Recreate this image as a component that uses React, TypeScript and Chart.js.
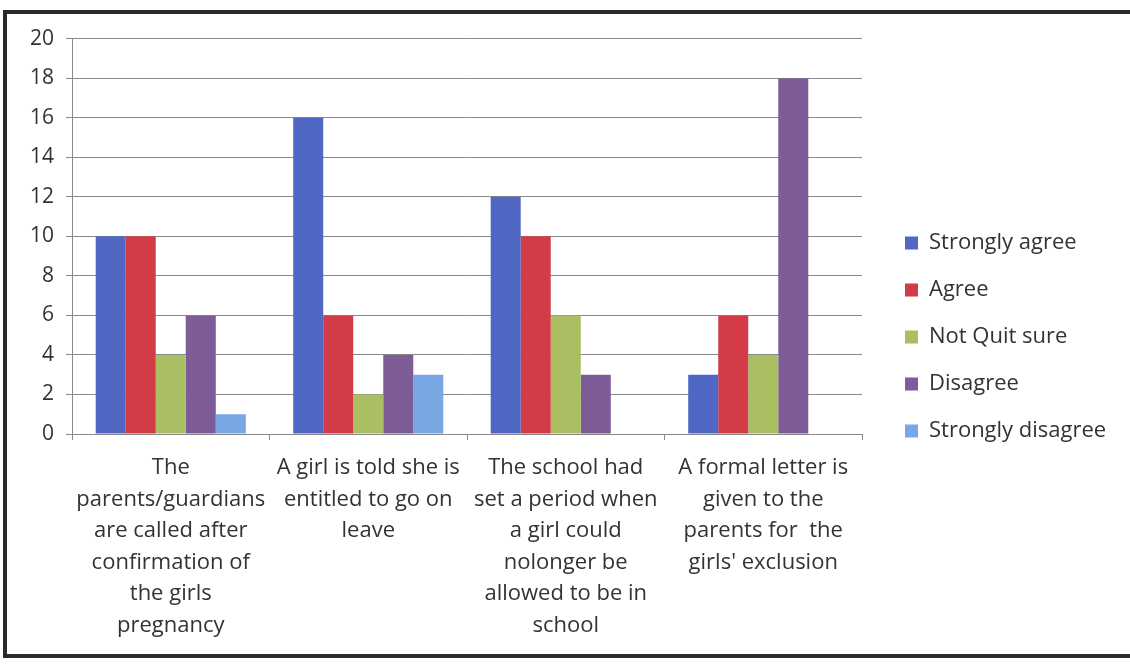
import React, { useEffect, useRef } from "react";
import { Chart, registerables } from "chart.js";

Chart.register(...registerables);

const categories: string[][] = [
  ["The", "parents/guardians", "are called after", "confirmation of", "the girls", "pregnancy"],
  ["A girl is told she is", "entitled to go on", "leave"],
  ["The school had", "set a period when", "a girl could", "nolonger be", "allowed to be in", "school"],
  ["A formal letter is", "given to the", "parents for  the", "girls' exclusion"],
];

const seriesNames = ["Strongly agree", "Agree", "Not Quit sure", "Disagree", "Strongly disagree"];
const stronglyAgree = [10, 16, 12, 3];
const agree = [10, 6, 10, 6];
const notQuitSure = [4, 2, 6, 4];
const disagree = [6, 4, 3, 18];
const stronglyDisagree = [1, 3, 0, 0];
const seriesColors = ["#5067c4", "#d33c47", "#a9bf62", "#7d5c97", "#78a7e4"];

const yTicks = [0, 2, 4, 6, 8, 10, 12, 14, 16, 18, 20];

const FONT = "'Open Sans', 'Noto Sans', sans-serif";
const TEXT = "#333333";
const LEGEND_SIZE = 22;

export default function App() {
  const ref = useRef<HTMLCanvasElement | null>(null);

  useEffect(() => {
    if (!ref.current) return;
    const ctx = ref.current.getContext("2d")!;
    ctx.font = `${LEGEND_SIZE}px ${FONT}`;
    const maxText = Math.max(...seriesNames.map((n) => ctx.measureText(n).width));
    const padRight = Math.max(0, 191 - maxText);

    const values = [stronglyAgree, agree, notQuitSure, disagree, stronglyDisagree];
    const chart = new Chart(ref.current, {
      type: "bar",
      data: {
        labels: categories,
        datasets: seriesNames.map((name, i) => ({
          label: name,
          data: values[i],
          backgroundColor: seriesColors[i],
          borderWidth: 0,
          categoryPercentage: 0.76,
          barPercentage: 1,
        })),
      },
      options: {
        animation: false,
        responsive: false,
        maintainAspectRatio: false,
        layout: { padding: { top: 19, left: 0, right: padRight, bottom: 13 } },
        plugins: {
          tooltip: { enabled: false },
          legend: {
            position: "right",
            maxWidth: 400,
            labels: {
              boxWidth: 13,
              boxHeight: 13,
              padding: 25,
              color: TEXT,
              font: { family: FONT, size: LEGEND_SIZE },
            },
          },
        },
        scales: {
          x: {
            grid: {
              display: true,
              drawOnChartArea: false,
              drawTicks: true,
              tickLength: 6,
              color: "#8a8a8a",
              offset: true,
            },
            border: { display: true, color: "#8a8a8a" },
            ticks: {
              color: TEXT,
              padding: 12,
              maxRotation: 0,
              autoSkip: false,
              font: { family: FONT, size: 22, lineHeight: 1.432 },
            },
            afterFit: (s: any) => {
              s.height = 207;
            },
          },
          y: {
            min: 0,
            max: 20,
            afterBuildTicks: (s: any) => {
              s.ticks = yTicks.map((v) => ({ value: v }));
            },
            grid: { color: "#8a8a8a", tickLength: 6 },
            border: { display: true, color: "#8a8a8a" },
            ticks: {
              color: TEXT,
              padding: 12,
              font: { family: FONT, size: 21 },
            },
            afterFit: (s: any) => {
              s.width = 65;
            },
          },
          y2: {
            position: "right",
            display: true,
            grid: { display: false, drawTicks: false },
            border: { display: false },
            ticks: { display: false },
            afterFit: (s: any) => {
              s.width = 18;
            },
          },
        },
      },
    });
    return () => chart.destroy();
  }, []);

  return (
    <div
      style={{
        position: "absolute",
        left: 3,
        top: 10,
        width: 1123,
        height: 640,
        borderTop: "4px solid #2a2a2a",
        borderLeft: "4px solid #2a2a2a",
        borderBottom: "4px solid #2a2a2a",
        background: "#fff",
      }}
    >
      <canvas ref={ref} width={1123} height={640} style={{ display: "block" }} />
    </div>
  );
}
